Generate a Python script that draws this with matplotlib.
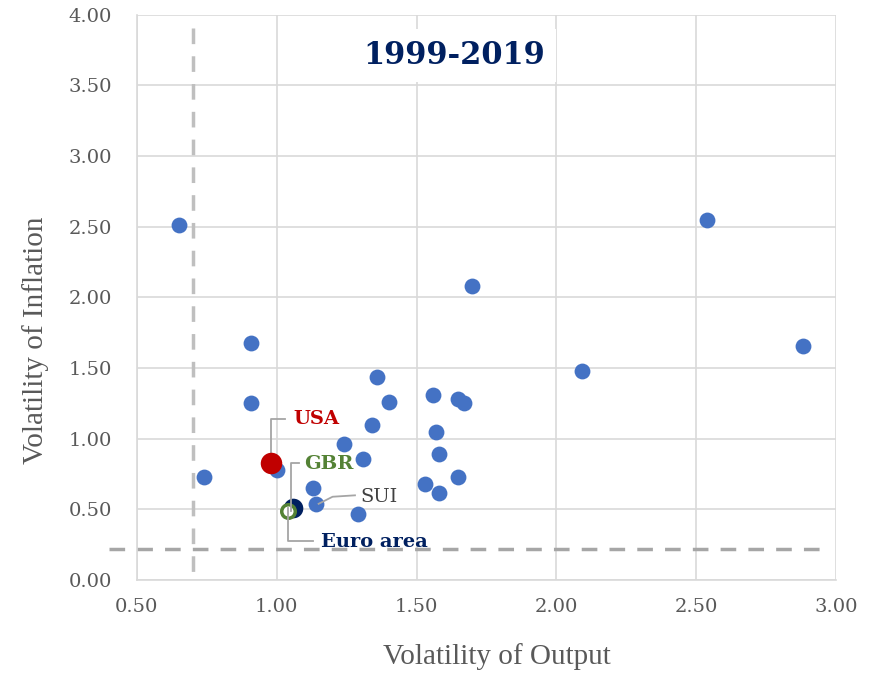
import matplotlib
matplotlib.use("Agg")
import matplotlib.pyplot as plt

# volatility of output (x) and inflation (y), 1999-2019
out_vol = [0.65, 0.91, 0.91, 0.74, 1.00, 1.13, 1.14, 1.24, 1.31, 1.29, 1.34, 1.36,
           1.40, 1.70, 1.56, 1.57, 1.58, 1.53, 1.58, 1.65, 1.67, 1.65, 2.09, 2.54, 2.88]
inf_vol = [2.51, 1.68, 1.25, 0.73, 0.78, 0.65, 0.54, 0.96, 0.86, 0.47, 1.10, 1.44,
           1.26, 2.08, 1.31, 1.05, 0.89, 0.68, 0.62, 1.28, 1.25, 0.73, 1.48, 2.55, 1.66]

usa = (0.98, 0.83)
gbr = (1.04, 0.49)
euro = (1.06, 0.51)
sui = (1.14, 0.54)

x_cut = 0.70
y_cut = 0.22

plt.rcParams['font.family'] = ['DejaVu Serif']

fig = plt.figure(figsize=(8.71, 6.73), dpi=100)
ax = fig.add_axes([0.157, 0.138, 0.803, 0.840])

ax.scatter(out_vol, inf_vol, s=130, color='#4472C4', zorder=3, linewidths=0)
ax.scatter([usa[0]], [usa[1]], s=240, color='#C00000', zorder=4, linewidths=0)
ax.scatter([euro[0]], [euro[1]], s=200, color='#002060', zorder=4, linewidths=0)
ax.scatter([gbr[0]], [gbr[1]], s=95, facecolor='white', edgecolor='#548235',
           linewidths=2.5, zorder=5)

# threshold lines
ax.plot([x_cut, x_cut], [3.91, 0], ls=(0, (4.5, 3.5)), color='#BFBFBF', lw=2.5,
        zorder=2, clip_on=False)
ax.plot([0.40, 2.95], [y_cut, y_cut], ls=(0, (4.5, 3.5)), color='#A6A6A6', lw=2.5,
        zorder=2, clip_on=False)

# leader lines and labels
lc = '#A5A5A5'
ax.plot([usa[0], usa[0], 1.03], [usa[1], 1.14, 1.14], color=lc, lw=1.3, zorder=3)
ax.text(1.06, 1.14, 'USA', color='#C00000', fontsize=14, fontweight='bold',
        va='center')
ax.plot([gbr[0] + 0.01, gbr[0] + 0.01, 1.08], [gbr[1], 0.83, 0.83], color=lc,
        lw=1.3, zorder=6)
ax.plot([euro[0] - 0.02, euro[0] - 0.02, 1.13], [euro[1], 0.28, 0.28], color=lc,
        lw=1.3, zorder=6)
ax.text(1.10, 0.82, 'GBR', color='#548235', fontsize=14, fontweight='bold',
        va='center')
ax.text(1.16, 0.27, 'Euro area', color='#002060', fontsize=14,
        fontweight='bold', va='center')
ax.plot([sui[0] + 0.01, 1.20, 1.28], [sui[1], 0.59, 0.60], color=lc, lw=1.3,
        zorder=4)
ax.text(1.30, 0.59, 'SUI', color='#404040', fontsize=14, va='center')

ax.text(1.636, 3.71, '1999-2019', color='#002060', fontsize=22,
        fontweight='bold', ha='center', va='center', zorder=6,
        bbox=dict(facecolor='white', edgecolor='none', pad=8))

ax.set_xlim(0.5, 3.0)
ax.set_ylim(0, 4.0)
ax.set_xticks([0.5, 1.0, 1.5, 2.0, 2.5, 3.0])
ax.set_yticks([0, 0.5, 1.0, 1.5, 2.0, 2.5, 3.0, 3.5, 4.0])
ax.xaxis.set_major_formatter(matplotlib.ticker.FormatStrFormatter('%.2f'))
ax.yaxis.set_major_formatter(matplotlib.ticker.FormatStrFormatter('%.2f'))
ax.tick_params(length=0, labelsize=14, colors='#595959')
ax.tick_params(axis='x', pad=13)
ax.tick_params(axis='y', pad=18)
ax.grid(True, color='#D9D9D9', lw=1.2, zorder=0)
ax.set_axisbelow(True)
for s in ['top', 'right']:
    ax.spines[s].set_visible(False)
for s in ['left', 'bottom']:
    ax.spines[s].set_color('#D9D9D9')
    ax.spines[s].set_linewidth(1.2)

ax.set_xlabel('Volatility of Output', fontsize=21, color='#595959', labelpad=19,
              family='Liberation Serif')
ax.set_ylabel('Volatility of Inflation', fontsize=21, color='#595959', labelpad=14,
              family='Liberation Serif')
ax.xaxis.label.set_x(0.515)
ax.yaxis.label.set_y(0.425)

fig.savefig('out.png', dpi=100)
